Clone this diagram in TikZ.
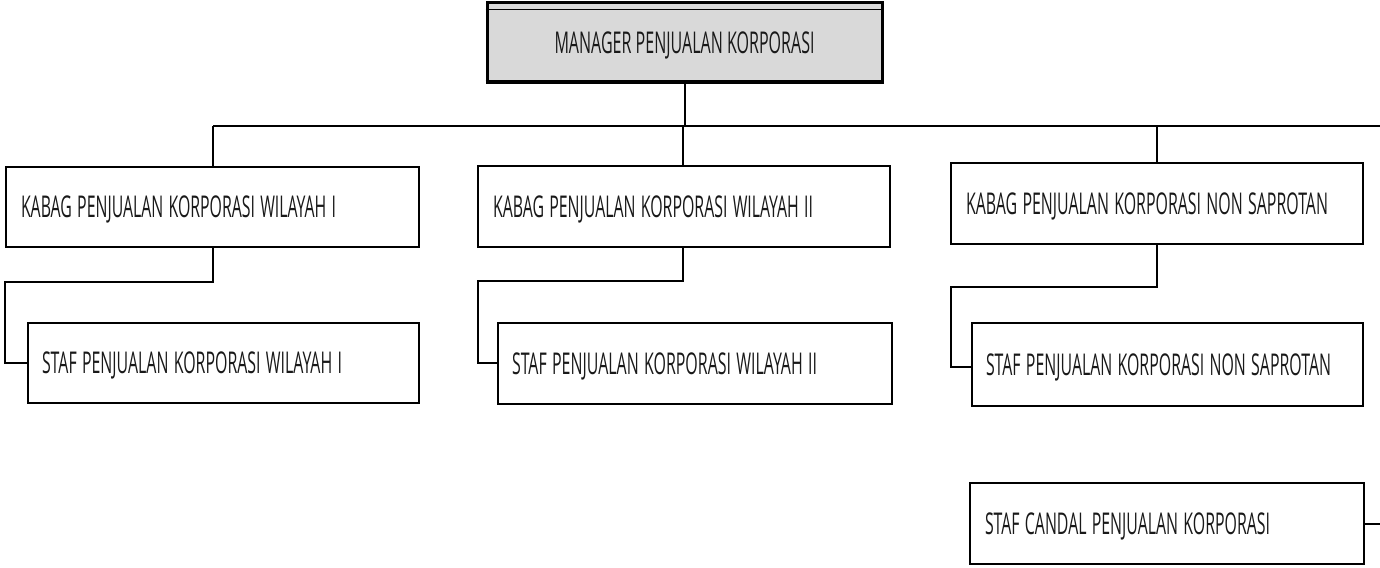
\documentclass[tikz,border=0pt]{standalone}
\usepackage{fontspec}
\setmainfont{Open Sans}
\definecolor{headfill}{HTML}{D9D9D9}
% condensed label: natural height, squeezed to the given width
\newcommand{\boxlabel}[2]{\resizebox{#1}{\height}{#2}}
\begin{document}
\begin{tikzpicture}[x=1pt,y=-1pt,
  every node/.style={font=\fontsize{30}{32}\selectfont,text=black!90},
  unitbox/.style={draw=black,line width=2.4pt,fill=white,rectangle,
    inner xsep=15pt,inner ysep=0pt,align=left,anchor=center,text depth=0pt},
  headbox/.style={draw=black,line width=3pt,fill=headfill,rectangle,
    inner sep=0pt,align=center,text depth=0pt},
  link/.style={draw=black,line width=2pt}]
\useasboundingbox (0,0) rectangle (1380,567);

% head of the division
\node[headbox,minimum width=395pt,minimum height=80pt] (mgr) at (684.5,43) {\boxlabel{260pt}{MANAGER PENJUALAN KORPORASI}};
\draw[line width=1.5pt] ([yshift=-8pt]mgr.north west) -- ([yshift=-8pt]mgr.north east);
\draw[line width=1.5pt] ([yshift=4pt]mgr.south west) -- ([yshift=4pt]mgr.south east);

% section heads
\node[unitbox,text width=383pt,minimum height=80pt] (k1) at (212.5,207) {\boxlabel{315pt}{KABAG PENJUALAN KORPORASI WILAYAH I}};
\node[unitbox,text width=382pt,minimum height=81pt] (k2) at (684,206.5) {\boxlabel{320pt}{KABAG PENJUALAN KORPORASI WILAYAH II}};
\node[unitbox,text width=382pt,minimum height=81pt] (k3) at (1157,203.5) {\boxlabel{362pt}{KABAG PENJUALAN KORPORASI NON SAPROTAN}};

% staff
\node[unitbox,inner xsep=14pt,text width=363pt,minimum height=80pt] (s1) at (223.5,363) {\boxlabel{300pt}{STAF PENJUALAN KORPORASI WILAYAH I}};
\node[unitbox,inner xsep=14pt,text width=366pt,minimum height=81pt] (s2) at (695,363.5) {\boxlabel{305pt}{STAF PENJUALAN KORPORASI WILAYAH II}};
\node[unitbox,inner xsep=14pt,text width=363pt,minimum height=83pt] (s3) at (1167.5,364.5) {\boxlabel{345pt}{STAF PENJUALAN KORPORASI NON SAPROTAN}};
\node[unitbox,inner xsep=15pt,text width=364pt,minimum height=81pt] (cd) at (1167,523.5) {\boxlabel{285pt}{STAF CANDAL PENJUALAN KORPORASI}};

% bus line under the head
\coordinate (busL) at (213,126);
\coordinate (busR) at (1380,126);
\coordinate (cdR) at (1380,523.5);

\draw[link] (mgr.south) -- (mgr.south |- busL);
\draw[link] (busL) -- (busR);
\draw[link] (busL) -- (busL |- k1.north);
\draw[link] (k2.north -| 683,0) -- (683,126);
\draw[link] (k3.north) -- (k3.north |- busL);

% section head to staff
\draw[link] (k1.south) -- ++(0,34) -| (5,363) -- (s1.west);
\draw[link] (k2.south -| 683,0) -- (683,281) -| (478,363) -- (s2.west |- 0,363);
\draw[link] (k3.south) -- (1157,287) -| (951,367) -- (s3.west |- 0,367);

% candal staff to the right edge
\draw[link] (cd.east) -- (cdR);
\end{tikzpicture}
\end{document}
